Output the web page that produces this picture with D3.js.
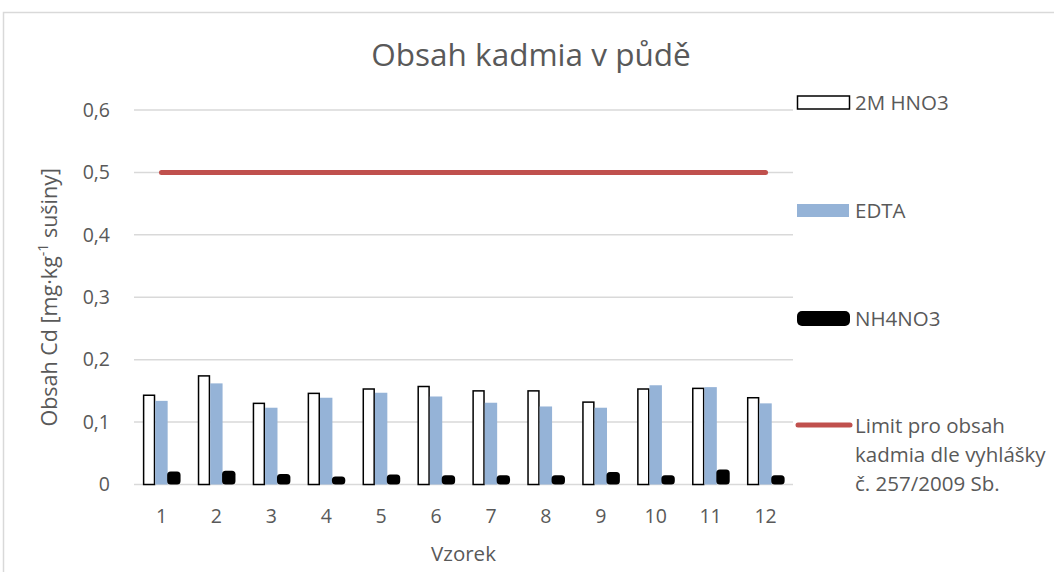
<!DOCTYPE html>
<html>
<head>
<meta charset="utf-8">
<script src="https://cdn.jsdelivr.net/npm/d3@7"></script>
<style>
  body { margin: 0; background: #fff; }
  text { font-family: "Open Sans", Lato, sans-serif; fill: #595959; }
</style>
</head>
<body>
<svg id="chart" width="1054" height="572"></svg>
<script>
// data
var samples = ["1", "2", "3", "4", "5", "6", "7", "8", "9", "10", "11", "12"];
var hno3 = [0.143, 0.174, 0.130, 0.146, 0.153, 0.157, 0.150, 0.150, 0.132, 0.153, 0.154, 0.139];
var edta = [0.134, 0.162, 0.123, 0.139, 0.147, 0.141, 0.131, 0.125, 0.123, 0.159, 0.156, 0.130];
var nh4no3 = [0.021, 0.022, 0.017, 0.013, 0.016, 0.015, 0.015, 0.015, 0.020, 0.015, 0.024, 0.015];
var limit = [0.5, 0.5, 0.5, 0.5, 0.5, 0.5, 0.5, 0.5, 0.5, 0.5, 0.5, 0.5];
var yTicks = [0, 0.1, 0.2, 0.3, 0.4, 0.5, 0.6];

var svg = d3.select("#chart");
var plotLeft = 134, plotRight = 793, plotTop = 110, plotBottom = 484.5;

// chart area border (only the visible top and left edges)
svg.append("path")
    .attr("d", "M 3.5 572 L 3.5 12.5 L 1054 12.5")
    .attr("fill", "none")
    .attr("stroke", "#d9d9d9")
    .attr("stroke-width", 1.5);

var x = d3.scaleBand().domain(samples).range([plotLeft, plotRight]).paddingInner(0).paddingOuter(0);
var y = d3.scaleLinear().domain([0, 0.6]).range([plotBottom, plotTop]);

var bw = x.bandwidth();
var barW = bw / 4.43;
var groupW = barW * 3;

// grid
svg.append("g").selectAll("line")
    .data(yTicks)
    .enter().append("line")
    .attr("x1", plotLeft).attr("x2", plotRight)
    .attr("y1", function(d) { return y(d); })
    .attr("y2", function(d) { return y(d); })
    .attr("stroke", "#d9d9d9")
    .attr("stroke-width", 1.5);

// y tick labels
svg.append("g").selectAll("text")
    .data(yTicks)
    .enter().append("text")
    .attr("x", 110)
    .attr("y", function(d) { return y(d); })
    .attr("dy", "0.35em")
    .attr("text-anchor", "end")
    .style("font-size", "19.5px")
    .text(function(d) { return d === 0 ? "0" : d3.format(".1f")(d).replace(".", ","); });

// x tick labels
svg.append("g").selectAll("text")
    .data(samples)
    .enter().append("text")
    .attr("x", function(d) { return x(d) + bw / 2; })
    .attr("y", 523)
    .attr("text-anchor", "middle")
    .style("font-size", "19.5px")
    .text(function(d) { return d; });

function barX(d, k) {
    return x(d) + (bw - groupW) / 2 + k * barW;
}

// 2M HNO3
svg.append("g").selectAll("rect")
    .data(samples)
    .enter().append("rect")
    .attr("x", function(d) { return barX(d, 0) + 0.75; })
    .attr("y", function(d, i) { return y(hno3[i]); })
    .attr("width", barW - 1.5)
    .attr("height", function(d, i) { return plotBottom - y(hno3[i]); })
    .attr("fill", "#fff")
    .attr("stroke", "#000")
    .attr("stroke-width", 1.5);

// EDTA
svg.append("g").selectAll("rect")
    .data(samples)
    .enter().append("rect")
    .attr("x", function(d) { return barX(d, 1); })
    .attr("y", function(d, i) { return y(edta[i]); })
    .attr("width", barW)
    .attr("height", function(d, i) { return plotBottom - y(edta[i]); })
    .attr("fill", "#95b3d7");

// NH4NO3 (blobby black fill)
svg.append("g").selectAll("rect")
    .data(samples)
    .enter().append("rect")
    .attr("x", function(d) { return barX(d, 2) - 0.5; })
    .attr("y", function(d, i) { return y(nh4no3[i]); })
    .attr("width", barW + 1)
    .attr("height", function(d, i) { return plotBottom - y(nh4no3[i]); })
    .attr("rx", 3.5)
    .attr("fill", "#000");

// limit line
var line = d3.line()
    .x(function(d, i) { return x(samples[i]) + bw / 2; })
    .y(function(d) { return y(d); });

svg.append("path")
    .datum(limit)
    .attr("d", line)
    .attr("fill", "none")
    .attr("stroke", "#c0504d")
    .attr("stroke-width", 5)
    .attr("stroke-linecap", "round");

// title
svg.append("text")
    .attr("x", 531)
    .attr("y", 66)
    .attr("text-anchor", "middle")
    .style("font-size", "31.5px")
    .text("Obsah kadmia v půdě");

// axis titles
svg.append("text")
    .attr("x", x("6") + bw)
    .attr("y", 561)
    .attr("text-anchor", "middle")
    .style("font-size", "20.5px")
    .text("Vzorek");

var yt = svg.append("text")
    .attr("transform", "translate(57," + ((plotTop + plotBottom) / 2) + ") rotate(-90)")
    .attr("text-anchor", "middle")
    .style("font-size", "21.5px");
yt.append("tspan").text("Obsah Cd [mg·kg");
yt.append("tspan").attr("dy", -9).style("font-size", "14px").text("-1");
yt.append("tspan").attr("dy", 9).text(" sušiny]");

// legend
var lg = svg.append("g");
lg.append("rect").attr("x", 797.5).attr("y", 96).attr("width", 52).attr("height", 13)
    .attr("fill", "#fff").attr("stroke", "#000").attr("stroke-width", 1.5);
lg.append("rect").attr("x", 797).attr("y", 204).attr("width", 52).attr("height", 13)
    .attr("fill", "#95b3d7");
lg.append("rect").attr("x", 797).attr("y", 311).attr("width", 53).attr("height", 15)
    .attr("rx", 5).attr("fill", "#000");
lg.append("line").attr("x1", 798).attr("x2", 850).attr("y1", 425).attr("y2", 425)
    .attr("stroke", "#c0504d").attr("stroke-width", 5).attr("stroke-linecap", "round");

var legendText = [
    { t: "2M HNO3", y: 103 },
    { t: "EDTA", y: 211 },
    { t: "NH4NO3", y: 319 },
    { t: "Limit pro obsah", y: 426 },
    { t: "kadmia dle vyhlášky", y: 455 },
    { t: "č. 257/2009 Sb.", y: 484 }
];
lg.selectAll("text.lt")
    .data(legendText)
    .enter().append("text")
    .attr("class", "lt")
    .attr("x", 855)
    .attr("y", function(d) { return d.y; })
    .attr("dy", "0.35em")
    .style("font-size", "20.5px")
    .text(function(d) { return d.t; });
</script>
</body>
</html>
